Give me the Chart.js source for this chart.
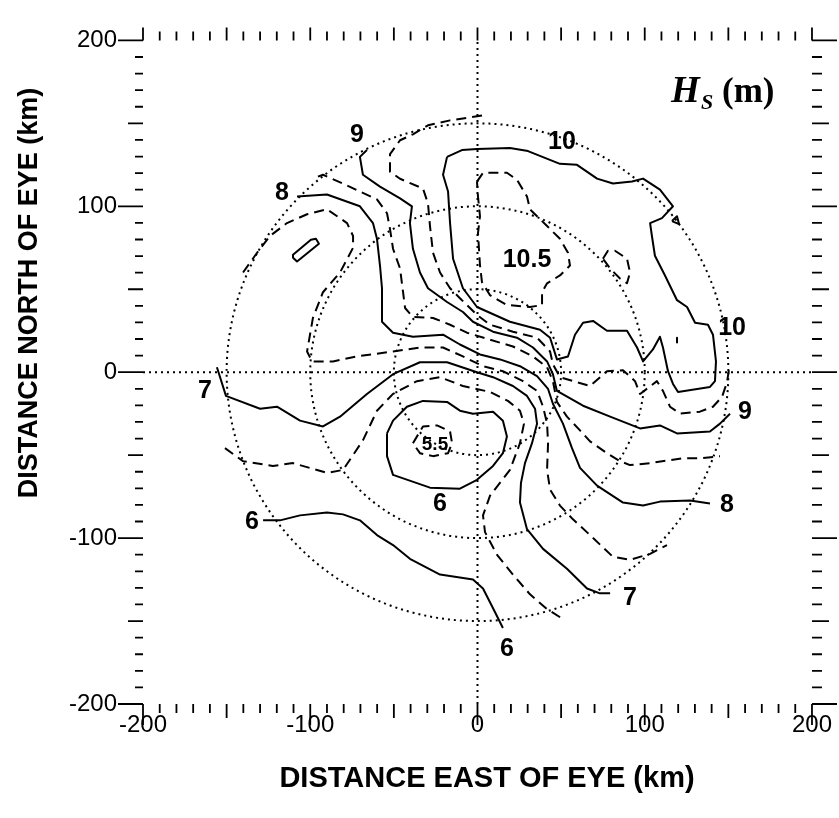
<!DOCTYPE html>
<html>
<head>
<meta charset="utf-8">
<title>Significant wave height around the eye</title>
<script src="https://cdn.jsdelivr.net/npm/chart.js@4.4.1/dist/chart.umd.min.js"></script>
<style>
  html, body { margin: 0; padding: 0; background: #fff; }
  #wrap { width: 839px; height: 818px; }
</style>
</head>
<body>
<div id="wrap"><canvas id="hsChart" width="839" height="818"></canvas></div>
<script>
// contour lines of Hs, points are [km east of eye, km north of eye]
const hs10 = [[-18.2,129.8],[-9.3,133.9],[-0.3,134.5],[19.4,135.1],[30.2,133.3],[49.3,125.6],[59.5,125.0],[71.5,116.7],[81.0,113.7],[92.4,114.9],[99.0,116.7],[109.1,110.1],[116.9,100.0],[110.3,92.9],[103.2,89.9],[104.3,82.1],[106.1,70.2],[112.1,58.3],[119.3,43.4],[125.3,39.3],[130.1,29.8],[137.8,28.6],[140.8,22.6],[142.6,6.5],[142.0,-5.4],[139.0,-8.9],[119.9,-11.9],[116.9,-7.1],[113.9,0.6],[110.9,14.9],[109.1,21.4],[104.9,13.7],[99.0,6.5],[95.4,14.9],[89.4,25.0],[77.4,25.0],[69.1,30.9],[63.1,29.8],[58.3,22.6],[54.1,9.5],[47.5,7.7],[43.4,20.8],[37.4,25.6],[19.4,30.4],[-0.3,39.3],[-8.7,50.6],[-14.6,68.4],[-16.4,89.9],[-17.6,108.9],[-20.6,119.0]];
const hs10Small = [[116.3,91.1],[119.3,94.0],[120.5,89.3]];
const hs10Bit = [[119.3,20.8],[119.3,17.9]];
const hs105 = [[-0.3,114.9],[3.3,120.2],[17.6,120.2],[23.6,116.0],[29.6,105.9],[31.4,98.2],[41.6,88.1],[49.3,80.4],[54.1,72.0],[55.3,64.3],[49.3,58.3],[41.6,53.6],[38.6,48.2],[38.6,40.5],[31.4,39.3],[17.6,40.5],[7.5,46.4],[2.7,54.2],[1.5,64.3],[0.3,83.9],[1.5,94.0],[0.3,105.9]];
const hs105Small = [[75.0,68.4],[78.0,73.2],[82.2,73.2],[89.4,68.4],[91.2,60.1],[89.4,53.6],[85.2,56.5],[79.3,62.5]];
const hs95 = [[2.7,154.7],[-16.4,151.8],[-29.6,148.8],[-38.6,143.4],[-46.3,139.8],[-52.3,131.5],[-52.3,120.8],[-46.3,116.6],[-32.6,110.7],[-29.6,101.7],[-28.4,88.1],[-26.6,72.0],[-22.4,60.1],[-16.4,50.6],[-10.5,44.6],[-4.5,38.7],[-0.3,34.5],[7.5,28.6],[21.2,24.4],[35.6,20.8],[43.4,12.5],[45.1,4.8],[49.3,-3.0],[67.3,-8.3],[77.4,0.6],[87.0,1.2],[94.2,-5.4],[97.2,-13.1],[107.3,-5.4],[110.9,-11.3],[115.1,-20.8],[121.1,-25.0],[133.0,-23.8],[140.8,-20.8],[146.2,-14.9],[149.2,-6.0],[150.4,1.8]];
const hs9 = [[-66.1,133.9],[-70.3,129.8],[-68.5,119.0],[-58.3,111.9],[-46.3,104.8],[-39.2,100.0],[-40.4,89.9],[-38.6,74.4],[-34.4,60.1],[-29.6,50.6],[-18.2,42.3],[-8.7,36.3],[-2.7,30.4],[9.3,24.4],[23.6,20.8],[33.2,14.9],[41.6,6.5],[45.1,-1.2],[47.5,-11.3],[63.1,-20.2],[79.3,-26.8],[97.2,-33.9],[109.1,-32.1],[119.3,-36.9],[139.0,-35.7],[145.0,-31.0],[151.0,-25.0]];
const hs85 = [[-95.4,117.9],[-92.4,119.0],[-80.4,113.7],[-70.3,108.9],[-60.1,104.2],[-54.1,95.8],[-52.3,86.3],[-50.5,74.4],[-46.3,62.5],[-44.5,48.2],[-43.3,38.7],[-38.6,33.3],[-26.6,32.7],[-16.4,28.6],[-6.3,23.8],[7.5,19.6],[21.2,15.5],[33.2,9.5],[41.6,3.0],[45.1,-5.4],[47.5,-17.9],[53.5,-26.8],[61.3,-35.1],[67.3,-41.7],[77.4,-48.8],[85.2,-53.6],[91.2,-56.0],[103.2,-54.8],[122.9,-51.8],[134.8,-51.8],[145.0,-50.6]];
const hs8 = [[-107.9,105.9],[-90.0,107.1],[-70.3,100.0],[-62.5,89.9],[-60.1,80.4],[-58.3,64.3],[-57.1,50.6],[-57.1,30.4],[-50.5,23.8],[-38.6,21.4],[-20.6,22.6],[-10.5,16.7],[1.5,10.7],[13.5,7.7],[25.4,3.6],[35.6,-2.4],[42.2,-10.1],[45.1,-19.0],[51.1,-31.0],[56.5,-45.8],[61.3,-57.7],[71.5,-68.4],[87.0,-78.6],[99.0,-80.4],[109.1,-78.0],[127.1,-77.4],[139.0,-79.2]];
const hs75 = [[-140.2,60.1],[-131.8,72.0],[-124.1,82.1],[-113.9,89.9],[-101.9,95.2],[-90.0,98.2],[-78.0,89.9],[-74.4,82.1],[-74.4,75.0],[-82.2,60.1],[-92.4,48.2],[-98.4,32.7],[-101.9,12.5],[-98.9,6.5],[-86.4,6.5],[-72.1,9.5],[-50.5,12.5],[-34.4,14.9],[-20.6,14.9],[-8.7,9.5],[3.3,3.6],[15.2,0.6],[27.2,-5.4],[35.6,-11.3],[39.2,-20.8],[41.6,-31.0],[42.2,-42.8],[41.6,-58.9],[43.4,-70.8],[49.3,-80.4],[57.1,-88.7],[67.3,-98.2],[81.0,-111.3],[91.2,-113.1],[103.2,-109.5],[113.3,-104.2]];
const hs75Small = [[-110.3,69.0],[-107.9,66.7],[-94.8,77.4],[-96.6,80.4],[-99.6,79.8],[-110.3,70.8]];
const hs7 = [[-155.8,3.0],[-150.4,-14.3],[-130.0,-22.0],[-119.9,-20.8],[-106.1,-29.2],[-92.4,-32.7],[-82.2,-26.8],[-66.1,-13.1],[-50.5,-1.2],[-34.4,6.0],[-18.2,6.0],[-0.3,0.0],[9.3,-3.0],[21.2,-8.3],[29.6,-14.3],[34.4,-22.0],[35.6,-31.0],[32.6,-42.8],[28.4,-54.8],[26.0,-66.7],[25.4,-78.6],[29.6,-94.6],[39.2,-106.5],[53.5,-118.5],[65.5,-130.4],[73.2,-133.3],[79.3,-133.3]];
const hs65 = [[-151.0,-45.8],[-140.2,-53.6],[-122.3,-56.5],[-110.3,-54.8],[-90.0,-60.7],[-80.4,-58.9],[-68.5,-41.1],[-60.1,-23.2],[-50.5,-13.1],[-36.2,-5.4],[-22.4,-3.0],[-8.7,-8.3],[7.5,-11.9],[18.2,-17.3],[25.4,-23.2],[27.8,-31.0],[25.4,-42.8],[19.4,-58.9],[7.5,-74.4],[3.3,-86.3],[4.5,-96.4],[11.7,-110.1],[21.2,-122.0],[31.4,-133.9],[41.6,-142.8],[51.1,-148.8]];
const hs6Loop = [[-54.1,-36.9],[-50.5,-29.2],[-42.2,-20.8],[-32.6,-17.3],[-18.2,-17.9],[-10.5,-23.2],[-2.7,-25.0],[9.3,-23.8],[15.2,-29.2],[17.6,-38.7],[15.2,-48.8],[9.3,-56.5],[-0.3,-64.9],[-10.5,-70.2],[-28.4,-69.6],[-50.5,-61.9],[-54.1,-50.6]];
const hs6 = [[-128.2,-89.3],[-118.1,-89.3],[-106.1,-86.3],[-90.0,-84.5],[-80.4,-85.7],[-70.3,-89.3],[-60.1,-98.2],[-50.5,-104.2],[-40.4,-112.5],[-22.4,-122.0],[-2.7,-125.0],[3.3,-130.4],[9.3,-142.3],[15.2,-154.2]];
const hs55 = [[-38.6,-42.8],[-32.6,-32.7],[-24.2,-32.1],[-16.4,-35.7],[-15.2,-42.8],[-17.6,-48.8],[-26.6,-50.6],[-34.4,-48.8]];

// contour labels
const labelText = ['9', '8', '10', '10.5', '10', '9', '8', '7', '6', '7', '6', '6', '5.5'];
const labelX = [-72.1, -116.9, 50.5, 29.6, 152.2, 159.9, 149.2, 91.2, 17.6, -162.9, -134.8, -22.4, -25.4];
const labelY = [142.9, 107.7, 138.7, 67.3, 26.8, -23.8, -80.4, -136.3, -166.7, -11.3, -90.5, -79.8, -44.0];

// axes
const axisMin = -200;
const axisMax = 200;
const labelStep = 100;
const minorStep = 10;
const ringRadii = [50, 100, 150];

const HsChart = {
    chart: null,

    init: function() {
        const ctx = document.getElementById('hsChart').getContext('2d');
        this.chart = new Chart(ctx, {
            type: 'scatter',
            data: { datasets: this.buildDatasets() },
            options: this.buildOptions(),
            plugins: [this.whiteBack, this.rangeRings, this.frameTicks, this.textLayer]
        });
    },

    line: function(pts, style, closed) {
        const list = closed ? pts.concat([pts[0]]) : pts;
        const ds = {
            data: list.map(p => ({ x: p[0], y: p[1] })),
            showLine: true,
            borderColor: '#000',
            borderWidth: 2,
            borderDash: [],
            borderJoinStyle: 'round',
            pointRadius: 0,
            pointHoverRadius: 0,
            tension: 0,
            fill: false
        };
        if (style === 'dash') ds.borderDash = [10, 6];
        if (style === 'dot') {
            ds.borderDash = [2, 4];
            ds.borderWidth = 2;
        }
        return ds;
    },

    buildDatasets: function() {
        return [
            this.line([[0, axisMin], [0, axisMax]], 'dot'),
            this.line([[axisMin, 0], [axisMax, 0]], 'dot'),
            this.line(hs10, 'solid', true),
            this.line(hs10Small, 'solid', true),
            this.line(hs10Bit, 'solid'),
            this.line(hs105, 'dash', true),
            this.line(hs105Small, 'dash', true),
            this.line(hs95, 'dash'),
            this.line(hs9, 'solid'),
            this.line(hs85, 'dash'),
            this.line(hs8, 'solid'),
            this.line(hs75, 'dash'),
            this.line(hs75Small, 'solid', true),
            this.line(hs7, 'solid'),
            this.line(hs65, 'dash'),
            this.line(hs6Loop, 'solid', true),
            this.line(hs6, 'solid'),
            this.line(hs55, 'dash', true)
        ];
    },

    buildOptions: function() {
        const tickFont = { family: "'Liberation Sans', Arial, sans-serif", size: 24 };
        return {
            responsive: false,
            animation: false,
            devicePixelRatio: 1,
            layout: { padding: { top: 32, right: 27, left: 0, bottom: 0 } },
            plugins: { legend: { display: false }, tooltip: { enabled: false } },
            events: [],
            scales: {
                x: {
                    type: 'linear', min: axisMin, max: axisMax,
                    grid: { display: false, drawTicks: false },
                    border: { display: false },
                    ticks: { stepSize: labelStep, color: '#000', font: tickFont, padding: 7, maxRotation: 0, autoSkip: false },
                    afterFit: s => { s.height = 114; }
                },
                y: {
                    type: 'linear', min: axisMin, max: axisMax,
                    grid: { display: false, drawTicks: false },
                    border: { display: false },
                    ticks: { stepSize: labelStep, color: '#000', font: tickFont, padding: 26, autoSkip: false },
                    afterFit: s => { s.width = 143; }
                }
            }
        };
    },

    whiteBack: {
        id: 'whiteBack',
        beforeDraw: function(chart) {
            const c = chart.ctx;
            c.save();
            c.fillStyle = '#fff';
            c.fillRect(0, 0, chart.width, chart.height);
            c.restore();
        }
    },

    // dotted range rings round the eye
    rangeRings: {
        id: 'rangeRings',
        beforeDatasetsDraw: function(chart) {
            const { ctx, scales: { x, y } } = chart;
            const cx = x.getPixelForValue(0), cy = y.getPixelForValue(0);
            ctx.save();
            ctx.strokeStyle = '#000';
            ctx.lineWidth = 2;
            ctx.setLineDash([2, 4]);
            ringRadii.forEach(r => {
                const rx = x.getPixelForValue(r) - cx;
                const ry = cy - y.getPixelForValue(r);
                ctx.beginPath();
                ctx.ellipse(cx, cy, rx, ry, 0, 0, Math.PI * 2);
                ctx.stroke();
            });
            ctx.restore();
        }
    },

    // tick marks on all four sides, pointing outward
    frameTicks: {
        id: 'frameTicks',
        afterDraw: function(chart) {
            const { ctx, chartArea: a, scales: { x, y } } = chart;
            const lenBottom = [9, 14, 21], lenLeft = [8, 15, 25], lenTop = [9, 13, 13], lenRight = [10, 17, 25];
            ctx.save();
            ctx.strokeStyle = '#000';
            ctx.lineWidth = 1.8;
            ctx.beginPath();
            for (let v = axisMin; v <= axisMax; v += minorStep) {
                const k = v % 100 === 0 ? 2 : (v % 50 === 0 ? 1 : 0);
                const px = x.getPixelForValue(v), py = y.getPixelForValue(v);
                ctx.moveTo(px, a.bottom); ctx.lineTo(px, a.bottom + lenBottom[k]);
                ctx.moveTo(px, a.top); ctx.lineTo(px, a.top - lenTop[k]);
                ctx.moveTo(a.left, py); ctx.lineTo(a.left - lenLeft[k], py);
                ctx.moveTo(a.right, py); ctx.lineTo(a.right + lenRight[k], py);
            }
            ctx.stroke();
            ctx.restore();
        }
    },

    // contour labels, panel title and axis titles
    textLayer: {
        id: 'textLayer',
        afterDraw: function(chart) {
            const { ctx, scales: { x, y } } = chart;
            ctx.save();
            ctx.fillStyle = '#000';
            ctx.textAlign = 'center';
            ctx.textBaseline = 'middle';
            labelText.forEach((t, i) => {
                const small = t === '5.5';
                ctx.font = 'bold ' + (small ? 19 : 25) + "px 'Liberation Sans', Arial, sans-serif";
                ctx.fillText(t, x.getPixelForValue(labelX[i]), y.getPixelForValue(labelY[i]));
            });

            // H_S (m)
            ctx.textAlign = 'left';
            ctx.textBaseline = 'alphabetic';
            ctx.font = "italic bold 37px 'Liberation Serif', 'Times New Roman', serif";
            ctx.fillText('H', 671, 102);
            ctx.font = "italic bold 22px 'Liberation Serif', 'Times New Roman', serif";
            ctx.fillText('S', 701, 109);
            ctx.font = "bold 35px 'Liberation Serif', 'Times New Roman', serif";
            ctx.fillText('(m)', 722, 102);

            // axis titles
            ctx.textAlign = 'center';
            ctx.textBaseline = 'middle';
            ctx.font = "bold 29px 'Liberation Sans', Arial, sans-serif";
            ctx.fillText('DISTANCE EAST OF EYE (km)', 487, 779);
            ctx.font = "bold 27px 'Liberation Sans', Arial, sans-serif";
            ctx.translate(30, 293);
            ctx.rotate(-Math.PI / 2);
            ctx.fillText('DISTANCE NORTH OF EYE (km)', 0, 0);
            ctx.restore();
        }
    }
};

document.addEventListener('DOMContentLoaded', function() {
    HsChart.init();
});
</script>
</body>
</html>
